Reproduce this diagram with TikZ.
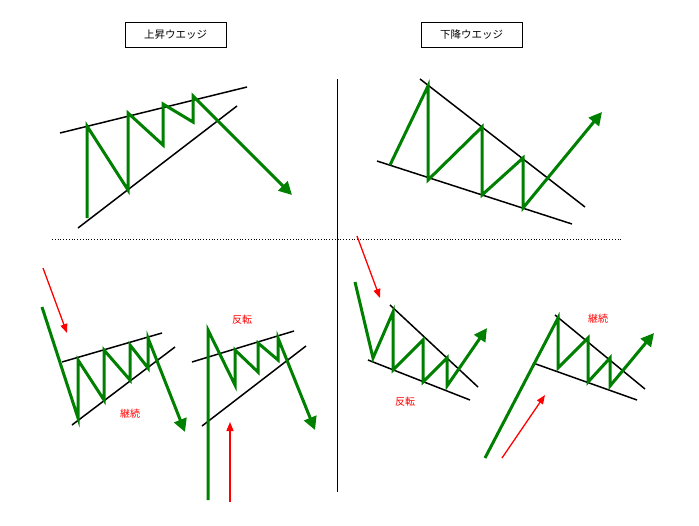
\documentclass[tikz,border=0pt]{standalone}
\usepackage{fontspec}
\setmainfont{Noto Sans CJK JP}
\usetikzlibrary{arrows.meta}
\definecolor{gr}{RGB}{0,128,0}
\tikzset{x=1pt,y=-1pt,
 wl/.style={black,line width=1.5pt},
 zz/.style={gr,line width=3pt,line join=miter},
 za/.style={zz,-{Triangle[length=13pt,width=13pt]}},
 ra/.style={red,line width=1.3pt,-{Triangle[length=9pt,width=7pt]}},
 lab/.style={red,font=\fontsize{10}{12}\selectfont},
 tt/.style={draw,line width=0.8pt,font=\fontsize{10.5}{12}\selectfont,minimum width=101pt,minimum height=25pt}}
\begin{document}
\begin{tikzpicture}
\useasboundingbox (0,0) rectangle (699,525);
\node[tt] (t1) at (175.5,34.5) {上昇ウエッジ};
\node[tt] (t2) at (471.5,34.5) {下降ウエッジ};
\draw[line width=0.8pt] (337,79) -- (337,492);
\draw[dotted,line width=0.8pt] (52,239) -- (622,239);
% top-left
\draw[wl] (60,133) -- (247,87);
\draw[wl] (78,228) -- (237,106);
\draw[za] (87,218)--(87,126)--(128,190)--(128,113)--(163,145)--(163,104)--(193,122)--(193,96)--(292,195);
% top-right
\draw[wl] (420,79) -- (585,207);
\draw[wl] (377,161) -- (572,224);
\draw[za] (390,165)--(428,86)--(428,180)--(482,127)--(482,195)--(523,158)--(523,208)--(602,112);
% bottom-left 1
\draw[wl] (62,362) -- (162,333);
\draw[wl] (72,425) -- (175,347);
\draw[za] (42,307)--(78,418)--(78,360)--(104,400)--(104,350)--(130,380)--(130,345)--(148,368)--(148,338)--(185,432);
\draw[ra] (43,268) -- (67,333);
\node[lab] (l1) at (130,414) {継続};
% bottom-left 2
\draw[wl] (192,362) -- (294,331);
\draw[wl] (202,426) -- (306,346);
\draw[za] (208,500)--(208,330)--(235,385)--(235,350)--(258,372)--(258,343)--(278,360)--(278,338)--(315,430);
\draw[ra] (230,502) -- (230,422);
\node[lab] (l2) at (242,320) {反転};
% bottom-right 1
\draw[wl] (390,305) -- (478,387);
\draw[wl] (368,360) -- (470,400);
\draw[za] (355,282)--(373,358)--(393,312)--(393,370)--(423,340)--(423,382)--(447,358)--(447,386)--(487,328);
\draw[ra] (357,236) -- (380,298);
\node[lab] (l3) at (405,402) {反転};
% bottom-right 2
\draw[wl] (555,315) -- (645,389);
\draw[wl] (533,363) -- (637,400);
\draw[za] (485,458)--(558,318)--(558,368)--(588,338)--(588,382)--(610,358)--(610,386)--(654,333);
\draw[ra] (502,458) -- (545,395);
\node[lab] (l4) at (598,319) {継続};
\end{tikzpicture}
\end{document}
